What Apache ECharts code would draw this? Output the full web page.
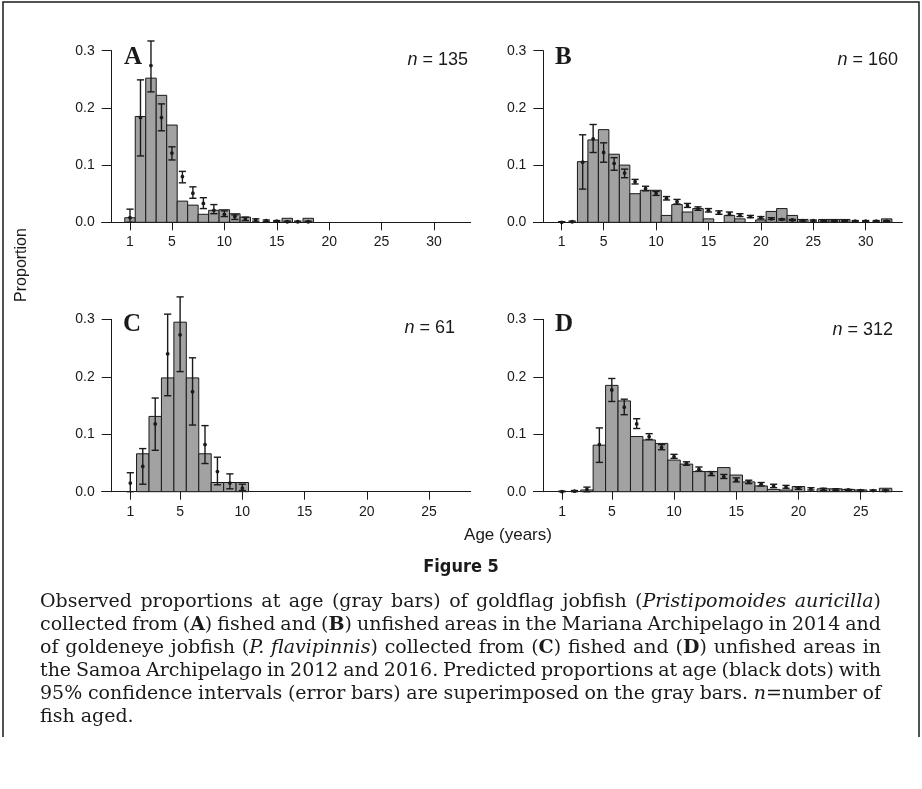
<!DOCTYPE html>
<html>
<head>
<meta charset="utf-8">
<script src="https://cdn.jsdelivr.net/npm/echarts@6/dist/echarts.min.js"></script>
<style>
  html, body { margin: 0; padding: 0; background: #fff; }
  #main { width: 922px; height: 789px; }
</style>
</head>
<body>
<div id="main"></div>
<script>
// ---- data ----
var agesA = [1, 2, 3, 4, 5, 6, 7, 8, 9, 10, 11, 12, 13, 14, 15, 16, 17, 18];
var obsA  = [0.008, 0.185, 0.252, 0.222, 0.170, 0.037, 0.030, 0.014, 0.021, 0.022, 0.015, 0.009, 0, 0, 0, 0.007, 0, 0.007];
var predA = [0.008, 0.183, 0.274, 0.183, 0.121, 0.080, 0.051, 0.033, 0.021, 0.014, 0.010, 0.006, 0.004, 0.003, 0.002, 0.001, 0.001, 0.001];
var loA   = [0.000, 0.116, 0.228, 0.160, 0.109, 0.069, 0.042, 0.024, 0.015, 0.010, 0.005, 0.003, 0.002, 0.001, 0.001, 0.000, 0.000, 0.000];
var hiA   = [0.023, 0.249, 0.317, 0.207, 0.132, 0.089, 0.062, 0.043, 0.031, 0.020, 0.013, 0.009, 0.006, 0.004, 0.003, 0.002, 0.002, 0.002];

var agesB = [1, 2, 3, 4, 5, 6, 7, 8, 9, 10, 11, 12, 13, 14, 15, 16, 17, 18, 19, 20, 21, 22, 23, 24, 25, 26, 27, 28, 29, 30, 31, 32];
var obsB  = [0, 0, 0.106, 0.144, 0.162, 0.119, 0.100, 0.050, 0.056, 0.056, 0.012, 0.031, 0.018, 0.024, 0.006, 0, 0.012, 0.006, 0, 0.004, 0.019, 0.024, 0.012, 0.005, 0, 0.005, 0.005, 0.005, 0, 0, 0, 0.006];
var predB = [0.000, 0.001, 0.105, 0.146, 0.122, 0.103, 0.086, 0.071, 0.059, 0.051, 0.042, 0.036, 0.029, 0.024, 0.021, 0.017, 0.015, 0.012, 0.010, 0.008, 0.006, 0.005, 0.004, 0.003, 0.003, 0.002, 0.002, 0.002, 0.002, 0.002, 0.002, 0.002];
var loB   = [0.000, 0.000, 0.058, 0.122, 0.105, 0.091, 0.078, 0.067, 0.055, 0.047, 0.039, 0.032, 0.026, 0.021, 0.018, 0.014, 0.012, 0.010, 0.008, 0.006, 0.005, 0.004, 0.003, 0.002, 0.002, 0.001, 0.001, 0.001, 0.001, 0.001, 0.001, 0.001];
var hiB   = [0.001, 0.002, 0.153, 0.171, 0.139, 0.113, 0.093, 0.075, 0.063, 0.054, 0.045, 0.040, 0.033, 0.027, 0.024, 0.020, 0.018, 0.015, 0.012, 0.010, 0.008, 0.006, 0.005, 0.004, 0.004, 0.003, 0.003, 0.003, 0.003, 0.003, 0.003, 0.003];

var agesC = [1, 2, 3, 4, 5, 6, 7, 8, 9, 10];
var obsC  = [0, 0.066, 0.131, 0.198, 0.295, 0.198, 0.066, 0.016, 0.016, 0.016];
var predC = [0.015, 0.044, 0.118, 0.240, 0.273, 0.174, 0.082, 0.035, 0.015, 0.006];
var loC   = [0.000, 0.013, 0.072, 0.167, 0.209, 0.116, 0.049, 0.012, 0.005, 0.002];
var hiC   = [0.033, 0.075, 0.163, 0.309, 0.339, 0.233, 0.115, 0.060, 0.031, 0.013];

var agesD = [1, 2, 3, 4, 5, 6, 7, 8, 9, 10, 11, 12, 13, 14, 15, 16, 17, 18, 19, 20, 21, 22, 23, 24, 25, 26, 27];
var obsD  = [0, 0, 0.003, 0.081, 0.185, 0.158, 0.096, 0.090, 0.084, 0.055, 0.048, 0.035, 0.035, 0.042, 0.029, 0.017, 0.010, 0.004, 0.003, 0.009, 0, 0.005, 0.005, 0.004, 0.003, 0, 0.006];
var predD = [0.000, 0.001, 0.004, 0.082, 0.177, 0.147, 0.118, 0.096, 0.077, 0.061, 0.049, 0.039, 0.031, 0.026, 0.020, 0.017, 0.013, 0.010, 0.008, 0.006, 0.005, 0.004, 0.003, 0.003, 0.002, 0.002, 0.002];
var loD   = [0.000, 0.000, 0.000, 0.051, 0.157, 0.134, 0.110, 0.091, 0.073, 0.058, 0.046, 0.036, 0.028, 0.023, 0.017, 0.014, 0.010, 0.007, 0.006, 0.004, 0.003, 0.002, 0.002, 0.002, 0.001, 0.001, 0.001];
var hiD   = [0.001, 0.002, 0.008, 0.111, 0.197, 0.161, 0.127, 0.101, 0.082, 0.065, 0.052, 0.043, 0.035, 0.030, 0.024, 0.020, 0.016, 0.013, 0.011, 0.008, 0.007, 0.006, 0.005, 0.004, 0.003, 0.003, 0.003];

var ticksAB = [1, 5, 10, 15, 20, 25, 30];
var ticksCD = [1, 5, 10, 15, 20, 25];
var panelLetters = ['A', 'B', 'C', 'D'];
var sampleSizes = [135, 160, 61, 312];

var captionLines = [
  'Observed proportions at age (gray bars) of goldflag jobfish ({i|Pristipomoides auricilla})',
  'collected from ({b|A}) fished and ({b|B}) unfished areas in the Mariana Archipelago in 2014 and',
  'of goldeneye jobfish ({i|P. flavipinnis}) collected from ({b|C}) fished and ({b|D}) unfished areas in',
  'the Samoa Archipelago in 2012 and 2016. Predicted proportions at age (black dots) with',
  '95% confidence intervals (error bars) are superimposed on the gray bars. {i|n}=number of',
  'fish aged.'
];

var ink = '#1a1a1a';
var sans = 'Liberation Sans, Arial, sans-serif';
var serif = 'DejaVu Serif, serif';
var capSize = 19;

function barItem(params, api) {
  var age = api.value(0), v = api.value(1);
  if (!v) return null;
  var p0 = api.coord([age - 0.5, v]);
  var p1 = api.coord([age + 0.5, 0]);
  return {
    type: 'rect',
    shape: { x: p0[0], y: p0[1], width: p1[0] - p0[0], height: p1[1] - p0[1] },
    style: { fill: '#a2a2a2', stroke: ink, lineWidth: 1 }
  };
}

function errItem(params, api) {
  var age = api.value(0);
  var pm = api.coord([age, api.value(1)]);
  var pl = api.coord([age, api.value(2)]);
  var ph = api.coord([age, api.value(3)]);
  var w = 3.6;
  var st = { stroke: ink, lineWidth: 1.4 };
  return {
    type: 'group',
    children: [
      { type: 'line', shape: { x1: pl[0], y1: pl[1], x2: ph[0], y2: ph[1] }, style: st },
      { type: 'line', shape: { x1: pl[0] - w, y1: pl[1], x2: pl[0] + w, y2: pl[1] }, style: st },
      { type: 'line', shape: { x1: ph[0] - w, y1: ph[1], x2: ph[0] + w, y2: ph[1] }, style: st },
      { type: 'circle', shape: { cx: pm[0], cy: pm[1], r: 1.9 }, style: { fill: ink } }
    ]
  };
}

function zip2(a, b) {
  return a.map(function (x, i) { return [x, b[i]]; });
}
function zip4(a, b, c, d) {
  return a.map(function (x, i) { return [x, b[i], c[i], d[i]]; });
}

var grids = [
  { left: 101.7, top: 50.7, width: 369, height: 171.6 },
  { left: 533.4, top: 50.7, width: 369, height: 171.6 },
  { left: 101.7, top: 319.3, width: 369, height: 172.4 },
  { left: 533.4, top: 319.3, width: 369, height: 172.4 }
];

function xAxisFor(i, min, max, ticks) {
  return {
    type: 'value', gridIndex: i, min: min, max: max,
    splitLine: { show: false },
    axisLine: { onZero: false, lineStyle: { color: ink, width: 1 } },
    axisTick: { customValues: ticks, length: 8, lineStyle: { color: ink } },
    axisLabel: { customValues: ticks, margin: 13, color: ink, fontSize: 14, fontFamily: sans }
  };
}
function yAxisFor(i) {
  return {
    type: 'value', gridIndex: i, min: 0, max: 0.3, interval: 0.1, offset: -10,
    splitLine: { show: false },
    axisLine: { show: true, onZero: false, lineStyle: { color: ink, width: 1 } },
    axisTick: { show: true, length: 10, lineStyle: { color: ink } },
    axisLabel: {
      margin: 17, color: ink, fontSize: 14, fontFamily: sans,
      formatter: function (v) { return v.toFixed(1); }
    }
  };
}

var panels = [
  [agesA, obsA, predA, loA, hiA],
  [agesB, obsB, predB, loB, hiB],
  [agesC, obsC, predC, loC, hiC],
  [agesD, obsD, predD, loD, hiD]
];

var series = [];
panels.forEach(function (p, i) {
  series.push({ type: 'custom', xAxisIndex: i, yAxisIndex: i, renderItem: barItem, data: zip2(p[0], p[1]), z: 2 });
  series.push({ type: 'custom', xAxisIndex: i, yAxisIndex: i, renderItem: errItem, data: zip4(p[0], p[2], p[3], p[4]), z: 3 });
});

var letterPos = [[124, 58], [555, 58], [123, 325], [555, 325]];
var nPos = [[468, 60], [898, 60], [455, 328], [893, 330]];

var graphics = [];
panelLetters.forEach(function (L, i) {
  graphics.push({
    type: 'text', x: letterPos[i][0], y: letterPos[i][1],
    style: { text: L, fill: ink, font: 'bold 25px Liberation Serif, Times New Roman, serif', textVerticalAlign: 'middle' }
  });
  graphics.push({
    type: 'text', x: nPos[i][0], y: nPos[i][1],
    style: {
      text: '{i|n} = ' + sampleSizes[i], fill: ink, fontSize: 18, fontFamily: sans,
      textAlign: 'right', textVerticalAlign: 'middle',
      rich: { i: { fontStyle: 'italic', fontSize: 18, fontFamily: sans, fill: ink } }
    }
  });
});

graphics.push({
  type: 'text', x: 22, y: 265, rotation: Math.PI / 2,
  style: { text: 'Proportion', fill: ink, fontSize: 16, fontFamily: sans, textAlign: 'center', textVerticalAlign: 'middle' }
});
graphics.push({
  type: 'text', x: 508, y: 535,
  style: { text: 'Age (years)', fill: ink, fontSize: 17, fontFamily: sans, textAlign: 'center', textVerticalAlign: 'middle' }
});
graphics.push({
  type: 'text', x: 461, y: 567,
  style: { text: 'Figure 5', fill: ink, font: 'bold 18px DejaVu Sans Condensed, Liberation Sans Narrow, sans-serif', textAlign: 'center', textVerticalAlign: 'middle' }
});

// caption: justified between x=40 and x=881, word by word
var measureCtx = document.createElement('canvas').getContext('2d');
function capFont(s) {
  return (s === 'i' ? 'italic ' : s === 'b' ? 'bold ' : '') + capSize + 'px ' + serif;
}
function lineWords(line) {
  var runs = [], re = /\{(\w)\|([^}]*)\}/g, last = 0, m;
  while ((m = re.exec(line))) {
    if (m.index > last) runs.push({ t: line.slice(last, m.index), s: '' });
    runs.push({ t: m[2], s: m[1] });
    last = re.lastIndex;
  }
  if (last < line.length) runs.push({ t: line.slice(last), s: '' });
  var words = [], cur = [];
  runs.forEach(function (r) {
    var parts = r.t.split(' ');
    parts.forEach(function (p, k) {
      if (k > 0) { if (cur.length) words.push(cur); cur = []; }
      if (p) cur.push({ t: p, s: r.s });
    });
  });
  if (cur.length) words.push(cur);
  return words;
}
var capLeft = 40, capRight = 881;
captionLines.forEach(function (line, k) {
  var words = lineWords(line);
  var widths = words.map(function (w) {
    return w.reduce(function (acc, p) { measureCtx.font = capFont(p.s); return acc + measureCtx.measureText(p.t).width; }, 0);
  });
  var total = widths.reduce(function (a, b) { return a + b; }, 0);
  measureCtx.font = capFont('');
  var gap = measureCtx.measureText(' ').width;
  if (k < captionLines.length - 1 && words.length > 1) gap = (capRight - capLeft - total) / (words.length - 1);
  var x = capLeft, y = 602 + k * 23;
  words.forEach(function (w, j) {
    var px = x;
    w.forEach(function (p) {
      graphics.push({ type: 'text', x: px, y: y, style: { text: p.t, fill: ink, font: capFont(p.s), textVerticalAlign: 'middle' } });
      measureCtx.font = capFont(p.s);
      px += measureCtx.measureText(p.t).width;
    });
    x += widths[j] + gap;
  });
});

// figure frame
graphics.push({ type: 'polyline', shape: { points: [[3, 737], [3, 2], [919, 2], [919, 737]] }, style: { stroke: ink, lineWidth: 1.5, fill: null } });

var chart = echarts.init(document.getElementById('main'));
chart.setOption({
  backgroundColor: '#fff',
  animation: false,
  grid: grids,
  xAxis: [xAxisFor(0, -1.7, 33.5, ticksAB), xAxisFor(1, -1.7, 33.5, ticksAB), xAxisFor(2, -1.3, 28.35, ticksCD), xAxisFor(3, -1.3, 28.35, ticksCD)],
  yAxis: [yAxisFor(0), yAxisFor(1), yAxisFor(2), yAxisFor(3)],
  series: series,
  graphic: graphics
});
</script>
</body>
</html>
